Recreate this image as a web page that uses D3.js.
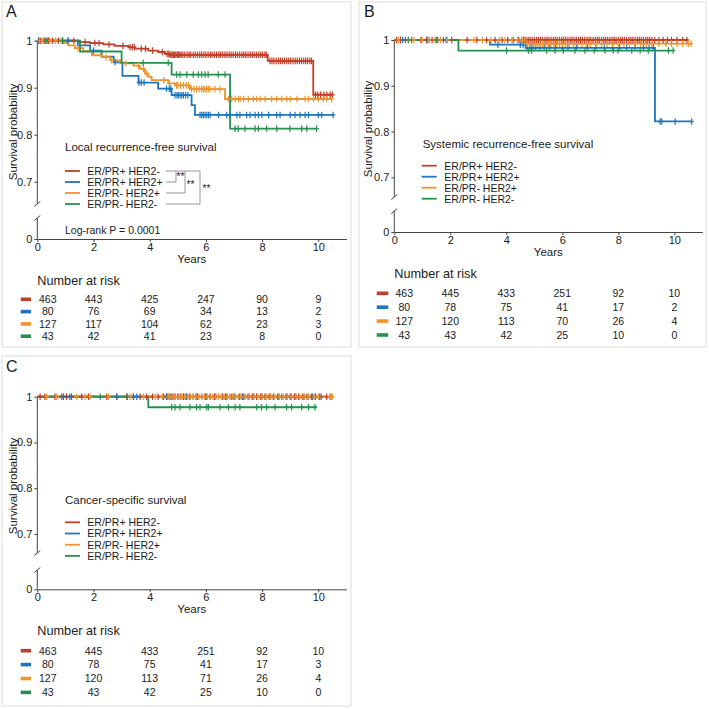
<!DOCTYPE html>
<html><head><meta charset="utf-8">
<script src="https://cdn.jsdelivr.net/npm/d3@7"></script>
<style>body{margin:0;background:#fff}svg{display:block}text{font-family:"Liberation Sans",Arial,sans-serif;fill:#1a1a1a}</style>
</head><body><svg id="c" width="709" height="709"></svg>
<script>
// ---------- shared labels ----------
const groups = ["ER/PR+ HER2-", "ER/PR+ HER2+", "ER/PR- HER2+", "ER/PR- HER2-"];
const colors = ["#C43D2A", "#1C77C0", "#EE942C", "#25924F"];
const yearTicks = [0, 2, 4, 6, 8, 10];
const survTicks = [0, 0.7, 0.8, 0.9, 1];

// ---------- Panel A : Local recurrence-free survival ----------
const aTitle = "Local recurrence-free survival";
const aPval = "Log-rank P = 0.0001";
const aRedSteps = [[0,1],[1.46,0.997],[1.88,0.995],[2.35,0.992],[2.75,0.989],[3.24,0.986],[3.48,0.983],[3.95,0.979],[4.3,0.976],[4.54,0.972],[4.7,0.970],[8.2,0.957],[9.82,0.885]];
const aRedEnd = 10.53;
const aRedCens = [0.05,0.12,0.25,0.4,0.55,0.75,1.1,1.3,1.7,2.05,2.2,2.55,3.05,3.3,3.38,3.45,3.7,3.85,4.1,4.45,4.62,4.68,4.72,4.76,4.8,4.84,4.88,4.93,4.98,5.02,5.07,5.12,5.18,5.25,5.33,5.4,5.46,5.55,5.62,5.7,5.78,5.85,5.93,6.0,6.08,6.16,6.22,6.3,6.38,6.46,6.52,6.6,6.68,6.75,6.83,6.9,6.97,7.05,7.12,7.2,7.28,7.35,7.42,7.5,7.58,7.65,7.72,7.8,7.88,7.95,8.02,8.1,8.15,8.28,8.35,8.42,8.5,8.58,8.65,8.72,8.8,8.88,8.95,9.02,9.1,9.18,9.25,9.33,9.4,9.48,9.55,9.62,9.7,9.76,9.9,9.98,10.08,10.2,10.3,10.42,10.5];
const aBlueSteps = [[0,1],[1.44,0.99],[1.88,0.979],[2.29,0.966],[2.72,0.954],[3.03,0.925],[3.6,0.911],[4.3,0.898],[4.78,0.884],[5.49,0.863],[5.61,0.842]];
const aBlueEnd = 10.53;
const aBlueCens = [0.05,0.35,0.9,1.1,2.0,2.77,3.62,3.7,3.8,4.6,4.7,4.75,4.9,4.97,5.02,5.08,5.14,5.2,5.28,5.36,5.79,5.85,5.91,5.97,6.03,6.09,6.15,6.45,6.74,6.86,7.1,7.21,7.45,7.57,7.75,7.87,7.99,8.23,8.52,8.64,9.0,9.17,9.35,9.53,9.65,10.0,10.12,10.53];
const aOrangeSteps = [[0,1],[0.93,0.995],[1.1,0.99],[1.34,0.984],[1.64,0.978],[1.94,0.969],[2.29,0.965],[2.6,0.958],[2.94,0.952],[3.42,0.947],[3.65,0.94],[3.83,0.93],[3.95,0.923],[4.07,0.916],[4.66,0.909],[4.9,0.905],[5.43,0.897],[6.68,0.876]];
const aOrangeEnd = 10.48;
const aOrangeCens = [0.08,0.2,0.45,0.65,0.85,1.45,2.45,2.65,3.15,3.6,3.78,3.9,4.5,4.7,4.95,5.0,5.1,5.2,5.3,5.38,5.49,5.58,5.67,5.76,5.85,5.91,5.97,6.03,6.09,6.15,6.32,6.5,6.8,6.92,7.04,7.16,7.22,7.34,7.51,7.69,7.81,7.93,8.11,8.34,8.52,8.7,8.88,9.0,9.24,9.53,9.65,9.83,10.0,10.18,10.3,10.48];
const aGreenSteps = [[0,1],[1.52,0.977],[3.0,0.953],[4.78,0.928],[6.86,0.813]];
const aGreenEnd = 9.94;
const aGreenCens = [0.3,0.9,3.77,4.66,4.96,5.08,5.32,5.55,5.73,5.85,5.97,6.08,6.44,6.68,7.04,7.15,7.39,7.75,7.87,8.16,8.52,8.99,9.41,9.59,9.94];
const aRisk = [[463,443,425,247,90,9],[80,76,69,34,13,2],[127,117,104,62,23,3],[43,42,41,23,8,0]];

// ---------- Panel B : Systemic recurrence-free survival ----------
const bTitle = "Systemic recurrence-free survival";
const bRedSteps = [[0,1]];
const bRedEnd = 10.5;
const bRedCens = [0.08,0.22,0.4,0.62,0.95,1.15,1.35,1.55,1.75,2.05,2.6,2.95,3.3,3.6,3.85,4.05,4.25,4.45,4.55,4.62,4.7,4.78,4.85,4.92,5.0,5.08,5.15,5.22,5.3,5.38,5.45,5.52,5.6,5.68,5.75,5.82,5.9,5.98,6.05,6.12,6.2,6.28,6.35,6.42,6.5,6.58,6.65,6.72,6.8,6.88,6.95,7.02,7.1,7.18,7.25,7.32,7.4,7.48,7.55,7.62,7.7,7.78,7.85,7.92,8.0,8.08,8.15,8.22,8.3,8.38,8.45,8.52,8.6,8.68,8.75,8.82,8.9,8.98,9.05,9.12,9.2,9.3,9.45,9.6,9.75,9.9,10.1,10.3,10.45];
const bBlueSteps = [[0,1],[3.42,0.99],[4.69,0.983],[9.31,0.822]];
const bBlueEnd = 10.62;
const bBlueCens = [0.3,1.2,1.85,3.7,4.5,4.6,4.75,4.85,4.95,5.05,5.2,5.35,5.55,5.75,6.0,6.2,6.5,6.9,7.2,7.5,7.8,8.05,8.3,8.6,8.9,9.1,9.25,9.49,9.55,10.03,10.62];
const bOrangeSteps = [[0,1],[4.7,0.992]];
const bOrangeEnd = 10.6;
const bOrangeCens = [0.15,0.5,0.7,1.0,1.25,1.45,1.65,1.9,2.85,3.15,3.45,3.75,3.95,4.2,4.4,4.55,4.65,4.75,4.82,4.9,4.98,5.05,5.12,5.2,5.3,5.4,5.5,5.6,5.7,5.8,5.9,6.0,6.1,6.25,6.4,6.55,6.7,6.85,7.0,7.2,7.4,7.6,7.8,8.0,8.2,8.4,8.6,8.8,9.0,9.2,9.45,9.7,9.9,10.1,10.3,10.5,10.6];
const bGreenSteps = [[0,1],[2.29,0.977]];
const bGreenEnd = 9.96;
const bGreenCens = [0.5,1.5,4.01,4.79,4.9,5.44,5.74,6.04,6.45,6.81,7.14,7.53,7.82,7.99,8.48,8.78,9.07,9.79,9.96];
const bRisk = [[463,445,433,251,92,10],[80,78,75,41,17,2],[127,120,113,70,26,4],[43,43,42,25,10,0]];

// ---------- Panel C : Cancer-specific survival ----------
const cTitle = "Cancer-specific survival";
const cRedSteps = [[0,1]];
const cRedEnd = 10.5;
const cRedCens = [0.1,0.27,0.63,0.87,1.04,1.22,1.58,1.82,2.47,2.83,3.18,3.42,3.66,3.89,4.1,4.3,4.5,4.62,4.7,4.8,4.9,5.0,5.1,5.2,5.3,5.42,5.55,5.7,5.85,6.0,6.15,6.3,6.45,6.6,6.75,6.9,7.05,7.2,7.35,7.5,7.65,7.8,7.95,8.1,8.25,8.4,8.55,8.7,8.85,9.0,9.15,9.3,9.45,9.6,9.75,9.9,10.1,10.3,10.45];
const cBlueSteps = [[0,1]];
const cBlueEnd = 10.05;
const cBlueCens = [0.93,1.16,2.83,3.42,3.54,4.6,4.75,5.0,5.3,5.65,6.0,6.35,6.7,7.0,7.3,7.7,8.0,8.3,8.6,8.9,9.2,9.5,9.8,10.05];
const cOrangeSteps = [[0,1]];
const cOrangeEnd = 10.5;
const cOrangeCens = [0.33,0.69,1.4,1.7,1.88,2.53,3.3,3.78,4.2,4.45,4.66,4.72,4.78,4.85,4.92,5.0,5.08,5.15,5.25,5.35,5.45,5.55,5.65,5.75,5.85,5.95,6.05,6.15,6.25,6.35,6.45,6.55,6.65,6.75,6.85,6.95,7.05,7.15,7.25,7.4,7.55,7.7,7.85,8.0,8.15,8.3,8.45,8.6,8.75,8.9,9.05,9.2,9.35,9.5,9.65,9.85,10.0,10.41,10.5];
const cGreenSteps = [[0,1],[3.95,0.977]];
const cGreenEnd = 9.95;
const cGreenCens = [2.24,3.2,4.78,4.9,5.08,5.43,5.67,5.79,6.03,6.09,6.5,6.8,7.04,7.21,7.81,7.98,8.16,8.46,8.87,9.05,9.41,9.65,9.88];
const cRisk = [[463,445,433,251,92,10],[80,78,75,41,17,3],[127,120,113,71,26,4],[43,43,42,25,10,0]];

// ---------- drawing ----------
const svg = d3.select("#c");
const FONT = '"Liberation Sans",Arial,sans-serif';

function survAt(steps, t) {
  let v = steps[0][1];
  for (const s of steps) { if (s[0] <= t) v = s[1]; }
  return v;
}

function panel(cfg) {
  const g = svg.append("g");
  g.append("rect").attr("x", cfg.box[0]).attr("y", cfg.box[1]).attr("width", cfg.box[2]).attr("height", cfg.box[3])
    .attr("fill", "none").attr("stroke", "#dcdcdc").attr("stroke-width", 1);
  g.append("text").attr("x", cfg.letter[0]).attr("y", cfg.letter[1]).attr("font-size", 16).text(cfg.letterText);

  const x = d3.scaleLinear().domain([0, 11]).range([cfg.x0, cfg.x0 + 11 * cfg.xpy]);
  const y = d3.scaleLinear().domain([0, 0.7, 1]).range([cfg.y0, cfg.y07, cfg.y1]);

  // y axis (ticks & labels)
  const ya = g.append("g").attr("transform", `translate(${cfg.x0},0)`)
    .call(d3.axisLeft(y).tickValues(survTicks).tickSize(3).tickPadding(2)
      .tickFormat(d => d === 1 ? "1" : d === 0 ? "0" : d3.format(".1f")(d)));
  ya.select(".domain").remove();
  ya.selectAll("line").attr("stroke", "#444");
  ya.selectAll("text").attr("font-size", 11).attr("font-family", FONT).attr("fill", "#222");
  // axis line with break
  const ax = cfg.x0;
  g.append("line").attr("x1", ax).attr("x2", ax).attr("y1", cfg.y1).attr("y2", cfg.brk[0]).attr("stroke", "#444");
  g.append("line").attr("x1", ax).attr("x2", ax).attr("y1", cfg.brk[1]).attr("y2", cfg.y0).attr("stroke", "#444");
  cfg.brk.forEach(b => {
    g.append("line").attr("x1", ax - 3).attr("y1", b + 2.5).attr("x2", ax + 3).attr("y2", b - 2.5).attr("stroke", "#444");
  });

  // x axis
  const xa = g.append("g").attr("transform", `translate(0,${cfg.y0})`)
    .call(d3.axisBottom(x).tickValues(yearTicks).tickSize(3).tickSizeOuter(0).tickPadding(1));
  xa.select(".domain").attr("stroke", "#444");
  xa.selectAll("line").attr("stroke", "#444");
  xa.selectAll("text").attr("font-size", 11).attr("font-family", FONT).attr("fill", "#222");

  // axis titles
  g.append("text").attr("transform", `translate(${cfg.ylab[0]},${cfg.ylab[1]}) rotate(-90)`)
    .attr("text-anchor", "middle").attr("font-size", 11.5).text("Survival probability");
  g.append("text").attr("x", x(5.5)).attr("y", cfg.yearsY).attr("text-anchor", "middle")
    .attr("font-size", 11.5).text("Years");

  // curves
  const line = d3.line().x(d => x(d[0])).y(d => y(d[1])).curve(d3.curveStepAfter);
  cfg.series.forEach((s, i) => {
    const pts = s.steps.concat([[s.end, s.steps[s.steps.length - 1][1]]]);
    g.append("path").attr("d", line(pts)).attr("fill", "none").attr("stroke", colors[i]).attr("stroke-width", 1.8);
  });
  cfg.series.forEach((s, i) => {
    const cg = g.append("g").attr("stroke", colors[i]).attr("stroke-width", 1.2);
    s.cens.forEach(t => {
      const cx = x(t), cy = y(survAt(s.steps, t));
      cg.append("line").attr("x1", cx).attr("x2", cx).attr("y1", cy - 3.3).attr("y2", cy + 3.3);
      cg.append("line").attr("x1", cx - 2.2).attr("x2", cx + 2.2).attr("y1", cy).attr("y2", cy);
    });
  });

  // legend
  g.append("text").attr("x", cfg.leg.titleX).attr("y", cfg.leg.titleY).attr("font-size", 11.5).text(cfg.title);
  groups.forEach((name, i) => {
    const ly = cfg.leg.y0 + i * cfg.leg.dy;
    g.append("line").attr("x1", cfg.leg.lx[0]).attr("x2", cfg.leg.lx[1]).attr("y1", ly).attr("y2", ly)
      .attr("stroke", colors[i]).attr("stroke-width", 1.8);
    g.append("text").attr("x", cfg.leg.tx).attr("y", ly + 3.8).attr("font-size", 10.5).text(name);
  });
  if (cfg.extra) cfg.extra(g, cfg);

  // risk table
  g.append("text").attr("x", cfg.x0).attr("y", cfg.risk.titleY).attr("font-size", 12.7).text("Number at risk");
  cfg.riskData.forEach((row, i) => {
    const ry = cfg.risk.y0 + i * cfg.risk.dy;
    g.append("rect").attr("x", cfg.risk.sw[0]).attr("y", ry - 1.8).attr("width", cfg.risk.sw[1] - cfg.risk.sw[0]).attr("height", 3.6)
      .attr("fill", colors[i]);
    row.forEach((n, j) => {
      const cx = x(yearTicks[j]) + (j === 0 ? cfg.risk.off0 : 0);
      g.append("text").attr("x", cx).attr("y", ry + 3.8).attr("text-anchor", "middle").attr("font-size", 10.5).text(n);
    });
  });
}

// Panel A
panel({
  letterText: "A", box: [2, 2, 349, 345], letter: [6, 17],
  x0: 37.3, xpy: 28.1, y1: 40.7, y07: 181.7, y0: 239, brk: [204, 218],
  ylab: [16.5, 132], yearsY: 263.3, title: aTitle,
  leg: { titleX: 65, titleY: 151, y0: 171, dy: 11, lx: [65, 80], tx: 87.3 },
  risk: { titleY: 284.5, y0: 299.3, dy: 12.3, sw: [20.7, 31], off0: 10.5 },
  riskData: aRisk,
  series: [
    { steps: aRedSteps, end: aRedEnd, cens: aRedCens },
    { steps: aBlueSteps, end: aBlueEnd, cens: aBlueCens },
    { steps: aOrangeSteps, end: aOrangeEnd, cens: aOrangeCens },
    { steps: aGreenSteps, end: aGreenEnd, cens: aGreenCens }],
  extra: (g, cfg) => {
    const rows = groups.map((_, i) => cfg.leg.y0 + i * cfg.leg.dy);
    const bx = 166, st = { stroke: "#8a8a8a", w: 0.9 };
    const L = (x1, y1, x2, y2) => g.append("line").attr("x1", x1).attr("y1", y1).attr("x2", x2).attr("y2", y2)
      .attr("stroke", st.stroke).attr("stroke-width", st.w);
    L(bx, rows[0], 200, rows[0]);
    L(bx, rows[1], 176, rows[1]); L(176, rows[0], 176, rows[1]);
    L(bx, rows[2], 185, rows[2]); L(185, rows[0], 185, rows[2]);
    L(bx, rows[3], 200, rows[3]); L(200, rows[0], 200, rows[3]);
    const S = (sx, sy) => g.append("text").attr("x", sx).attr("y", sy).attr("font-size", 10).attr("text-anchor", "middle").text("**");
    S(180.5, 180); S(190.5, 188); S(206.5, 192);
    g.append("text").attr("x", 65).attr("y", 234).attr("font-size", 10.5).text(aPval);
  }
});

// Panel B
panel({
  letterText: "B", box: [359, 2, 347, 345], letter: [364, 17],
  x0: 394.3, xpy: 28.0, y1: 40, y07: 177.3, y0: 232, brk: [197, 211],
  ylab: [372, 129], yearsY: 256, title: bTitle,
  leg: { titleX: 422.7, titleY: 147.5, y0: 165.7, dy: 11, lx: [421.7, 436.7], tx: 444.3 },
  risk: { titleY: 278, y0: 293.3, dy: 13.9, sw: [376.7, 388.3], off0: 10 },
  riskData: bRisk,
  series: [
    { steps: bRedSteps, end: bRedEnd, cens: bRedCens },
    { steps: bBlueSteps, end: bBlueEnd, cens: bBlueCens },
    { steps: bOrangeSteps, end: bOrangeEnd, cens: bOrangeCens },
    { steps: bGreenSteps, end: bGreenEnd, cens: bGreenCens }]
});

// Panel C
panel({
  letterText: "C", box: [2, 356, 349, 350], letter: [6, 372],
  x0: 37.3, xpy: 28.1, y1: 396.7, y07: 534, y0: 589.3, brk: [553, 570],
  ylab: [16.5, 486], yearsY: 612.6, title: cTitle,
  leg: { titleX: 65, titleY: 504, y0: 522.3, dy: 11.2, lx: [65, 80], tx: 87.3 },
  risk: { titleY: 634.5, y0: 650.7, dy: 13.9, sw: [20.7, 31], off0: 10.5 },
  riskData: cRisk,
  series: [
    { steps: cRedSteps, end: cRedEnd, cens: cRedCens },
    { steps: cBlueSteps, end: cBlueEnd, cens: cBlueCens },
    { steps: cOrangeSteps, end: cOrangeEnd, cens: cOrangeCens },
    { steps: cGreenSteps, end: cGreenEnd, cens: cGreenCens }]
});
</script>
</body></html>
